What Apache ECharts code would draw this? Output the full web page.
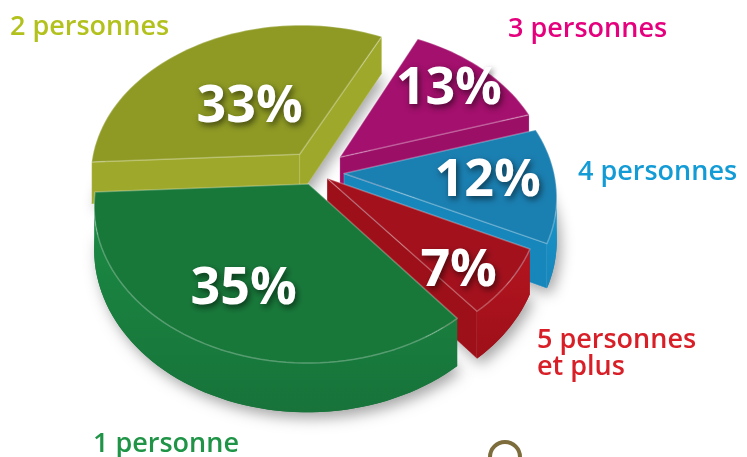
<!DOCTYPE html>
<html>
<head>
<meta charset="utf-8">
<script src="https://cdn.jsdelivr.net/npm/echarts@6/dist/echarts.min.js"></script>
<style>
  html, body { margin: 0; padding: 0; background: #ffffff; }
  #chart { width: 747px; height: 457px; }
</style>
</head>
<body>
<div id="chart"></div>
<script>
// Households by size (share of all households, in %)
const categories = ['2 personnes', '3 personnes', '4 personnes', '5 personnes\net plus', '1 personne'];
const shares = [33, 13, 12, 7, 35];

// Colours per slice
const topColors   = ['#8e9a24', '#a3106d', '#1a7fb1', '#a3111d', '#18783a'];
const sideColors  = ['#a3ad2c', '#b0157a', '#1895c9', '#b3141f', '#1b8a43'];
const edgeColors  = ['#9ea82a', '#9c0f67', '#1786bb', '#9e1019', '#17733a'];
const labelColors = ['#b3c11d', '#e5007e', '#139bd6', '#d81f27', '#1f9446'];

// Layout: pull-out distance, percent label placement (radius fraction, angle nudge), name label anchor
const explode = [30, 32, 28, 14, 18];
const pctRadius = [0.42, 0.75, 0.68, 0.8, 0.68];
const pctNudge = [4, 0, 0, -6, 0];
const nameAnchors = [[10, 14], [508, 16], [578, 159], [537, 327], [93, 431]];

// Projection of the tilted disc
const START = 183;            // first slice starts here (degrees, ccw from +x), slices run clockwise
const R = 210;
const CX = 316, CY = 172;
const KY = 0.72;              // vertical foreshortening
const PERSP = 0.136 / R;      // far side shrinks, near side grows
const DEPTH = 42;             // slab thickness at the disc centre
const DEG = Math.PI / 180;

function project(u, v, down) {
  const s = 1 / (1 + PERSP * v);
  return [CX + u * s, CY - v * KY * s + (down ? DEPTH * s : 0)];
}

const total = shares.reduce((a, b) => a + b, 0);

function renderSlice(params, api) {
  const i = params.dataIndex;
  const value = api.value(1);
  let before = 0;
  for (let k = 0; k < i; k++) before += shares[k];
  const a0 = START - before / total * 360;
  const a1 = a0 - value / total * 360;
  const mid = (a0 + a1) / 2 * DEG;
  const ox = explode[i] * Math.cos(mid);
  const oy = explode[i] * Math.sin(mid);

  const n = Math.max(8, Math.ceil(Math.abs(a1 - a0) / 2));
  const arc = [];
  for (let k = 0; k <= n; k++) {
    const t = (a0 + (a1 - a0) * k / n) * DEG;
    arc.push([ox + R * Math.cos(t), oy + R * Math.sin(t)]);
  }
  const plane = [[ox, oy]].concat(arc);   // clockwise outline in the disc plane
  const top = plane.map(p => project(p[0], p[1], false));
  const bottom = plane.map(p => project(p[0], p[1], true));

  const camV = -1 / PERSP;
  function facesViewer(p, q) {
    // outward normal of a clockwise outline edge
    const nu = -(q[1] - p[1]), nv = q[0] - p[0];
    const mu = (p[0] + q[0]) / 2, mv = (p[1] + q[1]) / 2;
    return nu * (0 - mu) + nv * (camV - mv) > 0;
  }

  const children = [];
  // base with drop shadow
  children.push({
    type: 'polygon',
    shape: { points: bottom },
    style: { fill: edgeColors[i], shadowBlur: 14, shadowColor: 'rgba(0,0,0,0.35)', shadowOffsetX: 4, shadowOffsetY: 6 }
  });

  const m = plane.length;
  // radial cut faces
  [[0, 1], [m - 1, 0]].forEach(([a, b]) => {
    if (facesViewer(plane[a], plane[b])) {
      children.push({
        type: 'polygon',
        shape: { points: [top[a], top[b], bottom[b], bottom[a]] },
        style: { fill: edgeColors[i], stroke: 'rgba(255,255,255,0.18)', lineWidth: 1 }
      });
    }
  });
  // outer rim, merged into contiguous visible runs
  let run = null;
  const runs = [];
  for (let k = 1; k < m - 1; k++) {
    const vis = facesViewer(plane[k], plane[k + 1]);
    if (vis) {
      if (!run) { run = [k]; runs.push(run); }
      run.push(k + 1);
    } else {
      run = null;
    }
  }
  runs.forEach(r => {
    const pts = r.map(k => top[k]).concat(r.slice().reverse().map(k => bottom[k]));
    children.push({
      type: 'polygon',
      shape: { points: pts },
      style: {
        fill: new echarts.graphic.LinearGradient(0, 0, 0, 1, [
          { offset: 0, color: sideColors[i] },
          { offset: 1, color: edgeColors[i] }
        ])
      }
    });
  });
  // top face
  children.push({
    type: 'polygon',
    shape: { points: top },
    style: { fill: topColors[i], stroke: 'rgba(255,255,255,0.28)', lineWidth: 1.5, lineJoin: 'round' }
  });

  // percent label
  const rp = pctRadius[i] * R;
  const la = mid + pctNudge[i] * DEG;
  const lp = project(ox + rp * Math.cos(la), oy + rp * Math.sin(la), false);
  children.push({
    type: 'text',
    style: {
      text: value + '%',
      x: lp[0], y: lp[1],
      align: 'center', verticalAlign: 'middle',
      fill: '#ffffff',
      fontFamily: '"Open Sans", sans-serif',
      fontWeight: 'bold',
      fontSize: 52,
      textShadowColor: 'rgba(0,0,0,0.55)',
      textShadowBlur: 6,
      textShadowOffsetX: 2,
      textShadowOffsetY: 3
    }
  });

  // category name
  children.push({
    type: 'text',
    style: {
      text: categories[i],
      x: nameAnchors[i][0], y: nameAnchors[i][1],
      align: 'left', verticalAlign: 'top',
      fill: labelColors[i],
      fontFamily: '"Open Sans", sans-serif',
      fontWeight: 600,
      fontSize: 27,
      lineHeight: 27
    }
  });

  return { type: 'group', children: children };
}

const chart = echarts.init(document.getElementById('chart'), null, { renderer: 'canvas' });
chart.setOption({
  backgroundColor: '#ffffff',
  animation: false,
  graphic: [{
    // small publisher emblem at the foot of the figure
    type: 'arc',
    shape: { cx: 505, cy: 457, r: 15, startAngle: Math.PI, endAngle: 2 * Math.PI },
    style: { stroke: '#7d6d3c', lineWidth: 4, fill: null }
  }],
  series: [{
    type: 'custom',
    coordinateSystem: 'none',
    renderItem: renderSlice,
    data: shares.map((v, i) => [i, v])
  }]
});
</script>
</body>
</html>
